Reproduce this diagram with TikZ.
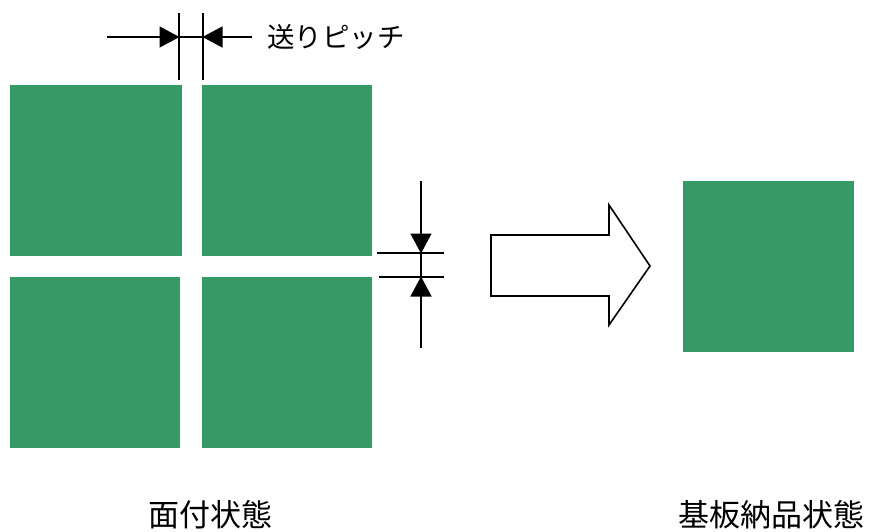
\documentclass[tikz,border=0pt]{standalone}
\usepackage{fontspec}
\setmainfont{Noto Sans CJK JP}
\usetikzlibrary{arrows.meta}
\definecolor{pcbgreen}{RGB}{53,154,102}
\tikzset{
  board/.style={fill=pcbgreen},
  dimline/.style={line width=1.4pt, black},
  dimarrow/.style={line width=1.4pt, black, -{Triangle[length=20pt,width=21pt]}, shorten >=-0.5pt},
  bigarrow/.style={line width=1.6pt, black, fill=white, line join=miter},
  lbl/.style={inner sep=0pt, text=black}
}
\begin{document}
\begin{tikzpicture}[x=1pt,y=-1pt]
\useasboundingbox (0,0) rectangle (869,532);
% panel boards
\fill[board] (10,85) rectangle (182,256);
\fill[board] (202,85) rectangle (372,256);
\fill[board] (10,277) rectangle (180,448);
\fill[board] (202,277) rectangle (372,448);
% single board
\fill[board] (683,181) rectangle (854,352);
% top pitch dimension
\coordinate (vL1) at (179,13); \coordinate (vL2) at (179,80);
\coordinate (vR1) at (203,13); \coordinate (vR2) at (203,80);
\coordinate (hL) at (107,37); \coordinate (hLt) at (179,37);
\coordinate (hR) at (252,37); \coordinate (hRt) at (203,37);
\draw[dimline] (vL1) -- (vL2);
\draw[dimline] (vR1) -- (vR2);
\draw[dimline] (hLt) -- (hRt);
\draw[dimarrow] (hL) -- (hLt);
\draw[dimarrow] (hR) -- (hRt);
\node[lbl, anchor=west, font=\fontsize{27.5}{27.5}\selectfont] (pitch) at (267,37) {送りピッチ};
% right pitch dimension
\coordinate (eT1) at (377,253); \coordinate (eT2) at (444,253);
\coordinate (eB1) at (379,277); \coordinate (eB2) at (444,277);
\coordinate (aT) at (421,181); \coordinate (aTt) at (421,253);
\coordinate (aB) at (421,348); \coordinate (aBt) at (421,277);
\draw[dimline] (eT1) -- (eT2);
\draw[dimline] (eB1) -- (eB2);
\draw[dimline] (aTt) -- (aBt);
\draw[dimarrow] (aT) -- (aTt);
\draw[dimarrow] (aB) -- (aBt);
% block arrow
\draw[bigarrow] (491,235) -- (609,235) -- (609,205) -- (650,266) -- (609,325) -- (609,296) -- (491,296) -- cycle;
% labels
\node[lbl, font=\fontsize{31}{31}\selectfont] (lpanel) at (210.5,515) {面付状態};
\node[lbl, font=\fontsize{31}{31}\selectfont] (lsingle) at (771.5,515) {基板納品状態};
\end{tikzpicture}
\end{document}
